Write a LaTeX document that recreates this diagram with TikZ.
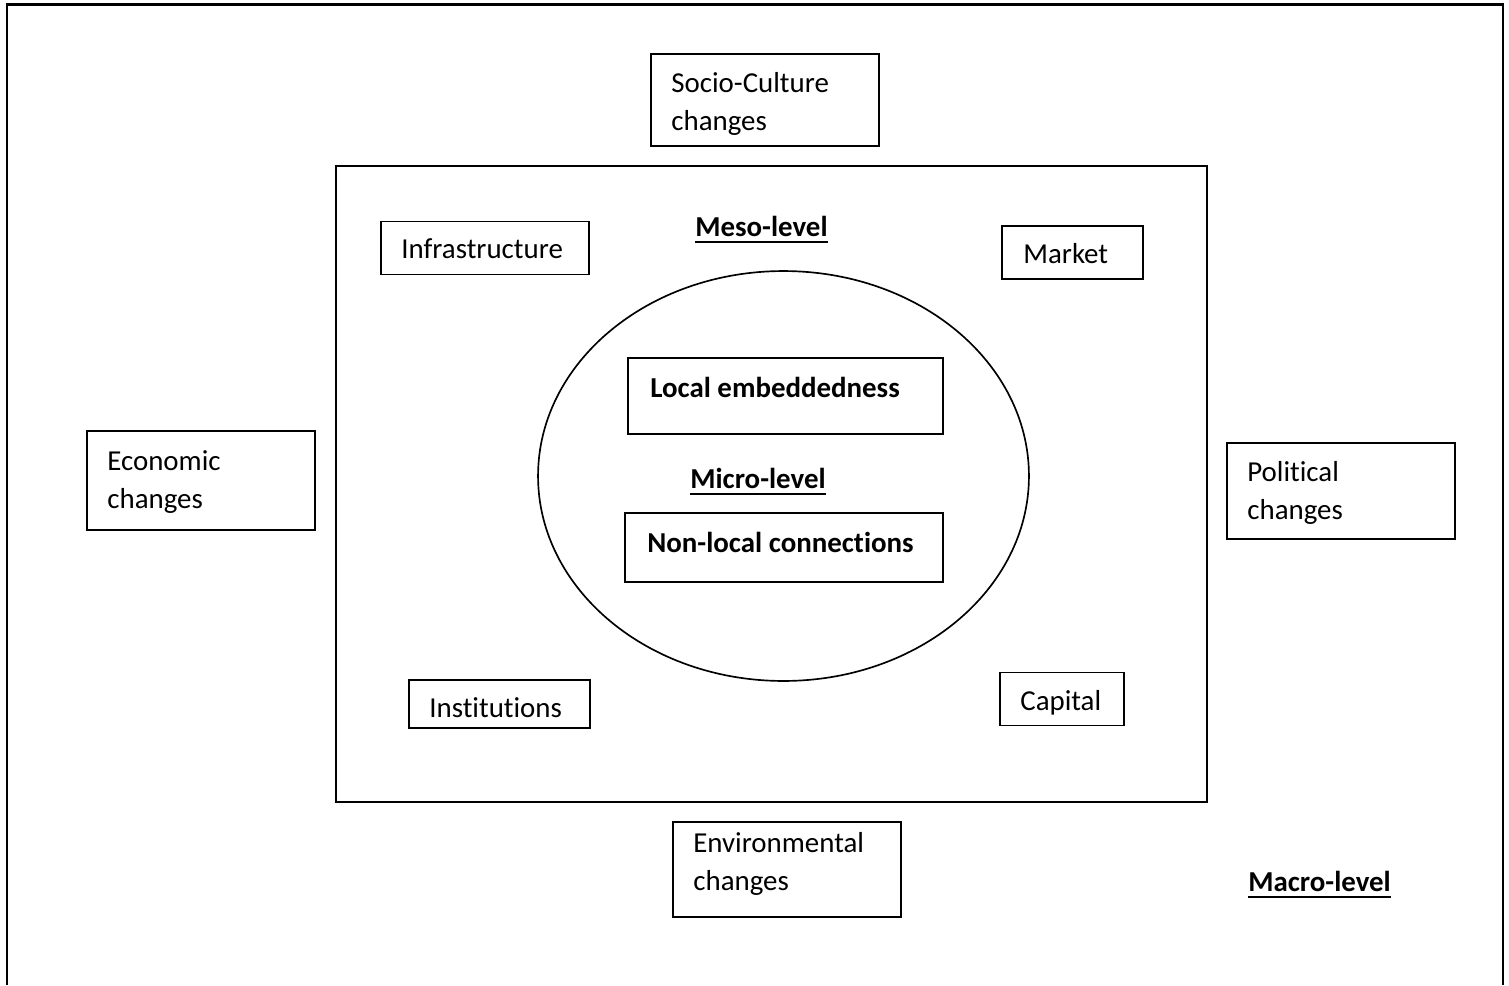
\documentclass[tikz,border=0pt]{standalone}
\usepackage{fontspec}
\setmainfont{Carlito}[Ligatures=NoCommon]
\usetikzlibrary{shapes.geometric,fit}

% underlined heading with a heavier rule, as in a word processor
\newsavebox\ulbox
\newcommand\ulhead[1]{\sbox\ulbox{#1}\rlap{\vrule width\wd\ulbox height -2.6pt depth 3.7pt}\usebox\ulbox}

\tikzset{
  box/.style={draw, line width=0.7pt, inner sep=0pt},
  boldbox/.style={draw, line width=1.3pt, inner sep=0pt},
  txt/.style={inner sep=0pt, anchor=base west, font=\fontsize{16.45}{21.8}\selectfont},
  btxt/.style={txt, font=\fontsize{16.45}{21.8}\selectfont\bfseries},
}

\begin{document}
\begin{tikzpicture}[x=0.02cm, y=-0.02cm]
\useasboundingbox (0,0) rectangle (1509,985);

% outer frame, open at the bottom
\coordinate (fbl) at (7,985);
\coordinate (ftl) at (7,4.5);
\coordinate (ftr) at (1503,4.5);
\coordinate (fbr) at (1503,985);
\draw[line width=1.3pt] (fbl) -- (ftl) -- (ftr) -- (fbr);

% meso-level frame
\node[draw, line width=1.1pt, inner sep=0pt, fit={(336,166) (1207,802)}] (meso) {};

% micro-level ellipse
\node[draw, ellipse, line width=0.95pt, inner sep=0pt,
      minimum width=9.82cm, minimum height=8.2cm] (micro) at (783.5,476) {};

% macro-level factors
\node[box, fit={(651,54) (879,146)}] (socio) {};
\node[txt] (sociot) at (671,92) {\begin{tabular}[t]{@{}l@{}}Socio-Culture\\changes\end{tabular}};

\node[box, fit={(87,431) (315,530)}] (econ) {};
\node[txt] (econt) at (107,470) {\begin{tabular}[t]{@{}l@{}}Economic\\changes\end{tabular}};

\node[box, fit={(1227,443) (1455,539)}] (pol) {};
\node[txt] (polt) at (1247,481) {\begin{tabular}[t]{@{}l@{}}Political\\changes\end{tabular}};

\node[box, fit={(673,822) (901,917)}] (env) {};
\node[txt] (envt) at (693,852) {\begin{tabular}[t]{@{}l@{}}Environmental\\changes\end{tabular}};

% meso-level factors
\node[box, fit={(381,221.5) (589,274.5)}] (infra) {};
\node[txt] (infrat) at (401,258.3) {Infrastructure};

\node[box, fit={(1002,226) (1143,279)}] (market) {};
\node[txt] (marktt) at (1023,263) {Market};

\node[box, fit={(409,680) (590,728)}] (inst) {};
\node[txt] (instt) at (429,717) {Institutions};

\node[box, fit={(1000,672.5) (1124,725.5)}] (cap) {};
\node[txt] (capt) at (1020,710) {Capital};

% micro-level factors
\node[boldbox, fit={(628,358) (943,434)}] (local) {};
\node[btxt] (localt) at (650,397) {Local embeddedness};

\node[boldbox, fit={(625,513) (943,582)}] (nonlocal) {};
\node[btxt] (nonlocalt) at (647,552) {Non-local connections};

% level headings
\node[btxt] (mesot) at (695,236.7) {\ulhead{Meso-level}};
\node[btxt] (microt) at (690,488) {\ulhead{Micro-level}};
\node[btxt] (macrot) at (1248,891.7) {\ulhead{Macro-level}};
\end{tikzpicture}
\end{document}
